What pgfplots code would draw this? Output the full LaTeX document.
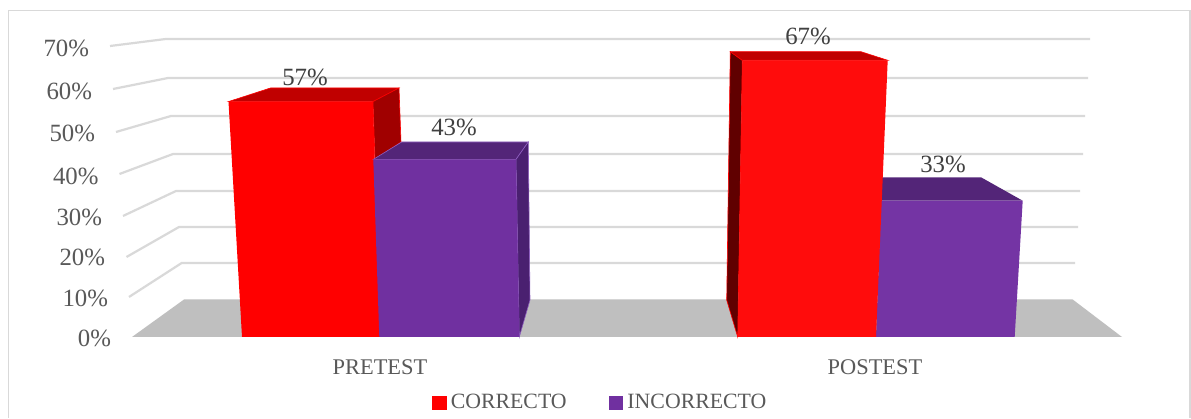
\documentclass[border=0pt]{standalone}
\usepackage{fontspec}
\setmainfont{Liberation Serif}
\usepackage{pgfplots}
\pgfplotsset{compat=1.18}
\definecolor{gridc}{HTML}{D9D9D9}
\definecolor{floorc}{HTML}{BFBFBF}
\definecolor{txt}{HTML}{595959}
\definecolor{lab}{HTML}{404040}
\definecolor{redtop}{HTML}{C00000}
\definecolor{redside}{HTML}{A00000}
\definecolor{redsideb}{HTML}{600000}
\definecolor{redfront}{HTML}{FF0000}
\definecolor{redfrontb}{HTML}{FF0C0C}
\definecolor{pur}{HTML}{7030A0}
\definecolor{purb}{HTML}{7434A4}
\definecolor{purtop}{HTML}{532578}
\definecolor{purside}{HTML}{4A2070}
\definecolor{puredge}{HTML}{8F5FC0}
\begin{document}
\begin{tikzpicture}
\begin{axis}[
  scale only axis, width=595.5pt, height=209pt,
  xmin=0, xmax=1191, ymin=-19.61, ymax=81.60,
  axis lines=none, clip=false,
  legend columns=2,
  legend style={at={(axis cs:432,-16.0)}, anchor=west, draw=none, fill=none,
    font=\fontsize{10.9pt}{12pt}\selectfont\color{txt},
    /tikz/every even column/.style={column sep=19pt},
    inner sep=0pt, outer sep=0pt},
  legend image code/.code={\fill[#1] (0pt,-3.6pt) rectangle (7.4pt,3.6pt);},
]
% picture extent
\addplot[fill=white, draw=none, forget plot] coordinates {(0,-19.61) (0,81.60) (1191,81.60) (1191,-19.61)} -- cycle;
% chart frame
\addplot[gridc, line width=0.7pt, forget plot] coordinates {(8.3,-19.61) (8.3,79.10) (1190,79.10) (1190,-19.61)};
% gridlines: front edge, back corner, right end
\addplot[gridc, line width=1.1pt, forget plot] coordinates {(110,70.46) (165.7,72.15) (1090,72.15)};
\addplot[gridc, line width=1.1pt, forget plot] coordinates {(113,60.05) (168,62.71) (1088,62.71)};
\addplot[gridc, line width=1.1pt, forget plot] coordinates {(116,49.64) (171,53.51) (1085,53.51)};
\addplot[gridc, line width=1.1pt, forget plot] coordinates {(119.5,39.47) (173,44.31) (1083,44.31)};
\addplot[gridc, line width=1.1pt, forget plot] coordinates {(123,29.30) (176,35.35) (1080,35.35)};
\addplot[gridc, line width=1.1pt, forget plot] coordinates {(126.5,19.37) (179,26.63) (1078,26.63)};
\addplot[gridc, line width=1.1pt, forget plot] coordinates {(129,9.69) (181.7,17.92) (1075,17.92)};
% floor
\addplot[fill=floorc, draw=none, forget plot] coordinates {(132,0) (184,9.08) (1072.7,9.08) (1122,0)} -- cycle;
% PRETEST correcto
\addplot[fill=redtop, draw=redfront, line width=0.3pt, forget plot] coordinates {(228.5,57) (270.5,60.29) (399,60.29) (373,57)} -- cycle;
\addplot[fill=redside, draw=redfront, line width=0.3pt, forget plot] coordinates {(373,57) (399,60.29) (401,47.22) (375,43)} -- cycle;
\addplot[fill=redfront, draw=none, forget plot] coordinates {(228.5,57) (373,57) (380,0) (242,0)} -- cycle;
% PRETEST incorrecto
\addplot[fill=purtop, draw=puredge, line width=0.3pt, forget plot] coordinates {(373.3,43) (401.7,47.22) (528.3,47.22) (516,43)} -- cycle;
\addplot[fill=purside, draw=puredge, line width=0.3pt, forget plot] coordinates {(516,43) (528.3,47.22) (530,8.96) (519.3,0)} -- cycle;
\addplot[fill=pur, draw=none, forget plot] coordinates {(373.3,43) (516,43) (519.3,0) (379.3,0)} -- cycle;
% POSTEST incorrecto
\addplot[fill=purtop, draw=none, forget plot] coordinates {(880,38.67) (981,38.67) (1022.7,33) (881,33)} -- cycle;
\addplot[fill=purb, draw=none, forget plot] coordinates {(881,33) (1022.7,33) (1014.7,0) (876,0)} -- cycle;
% POSTEST correcto
\addplot[fill=redsideb, draw=redfront, line width=0.3pt, forget plot] coordinates {(730.3,69.08) (742.3,67) (737.7,0) (726.7,8.96)} -- cycle;
\addplot[fill=redtop, draw=redfront, line width=0.3pt, forget plot] coordinates {(730.3,69.08) (861,69.08) (887.7,67) (742.3,67)} -- cycle;
\addplot[fill=redfrontb, draw=none, forget plot] coordinates {(742.3,67) (887.7,67) (876,0) (737.7,0)} -- cycle;
% legend
\addlegendimage{fill=red, draw=none}
\addlegendentry{CORRECTO}
\addlegendimage{fill=pur, draw=none}
\addlegendentry{INCORRECTO}
% tick labels
\begin{scope}[every node/.style={font=\fontsize{12.4pt}{14pt}\selectfont, text=txt, anchor=east, inner sep=0pt, outer sep=0pt}]
\node at (axis cs:89,69.98) {70\%};
\node at (axis cs:92,59.56) {60\%};
\node at (axis cs:95,49.39) {50\%};
\node at (axis cs:98.5,38.98) {40\%};
\node at (axis cs:102,29.06) {30\%};
\node at (axis cs:105,19.37) {20\%};
\node at (axis cs:108,9.44) {10\%};
\node at (axis cs:111,-0.24) {0\%};
\end{scope}
% value labels
\begin{scope}[every node/.style={font=\fontsize{12.4pt}{14pt}\selectfont, text=lab, inner sep=0pt, outer sep=0pt}]
\node at (axis cs:305,62.95) {57\%};
\node at (axis cs:454,50.85) {43\%};
\node at (axis cs:808,72.88) {67\%};
\node at (axis cs:943,41.89) {33\%};
\end{scope}
% category labels
\begin{scope}[every node/.style={font=\fontsize{11.2pt}{13pt}\selectfont, text=txt, inner sep=0pt, outer sep=0pt}]
\node at (axis cs:380,-7.26) {PRETEST};
\node at (axis cs:875,-7.26) {POSTEST};
\end{scope}
\end{axis}
\end{tikzpicture}
\end{document}
